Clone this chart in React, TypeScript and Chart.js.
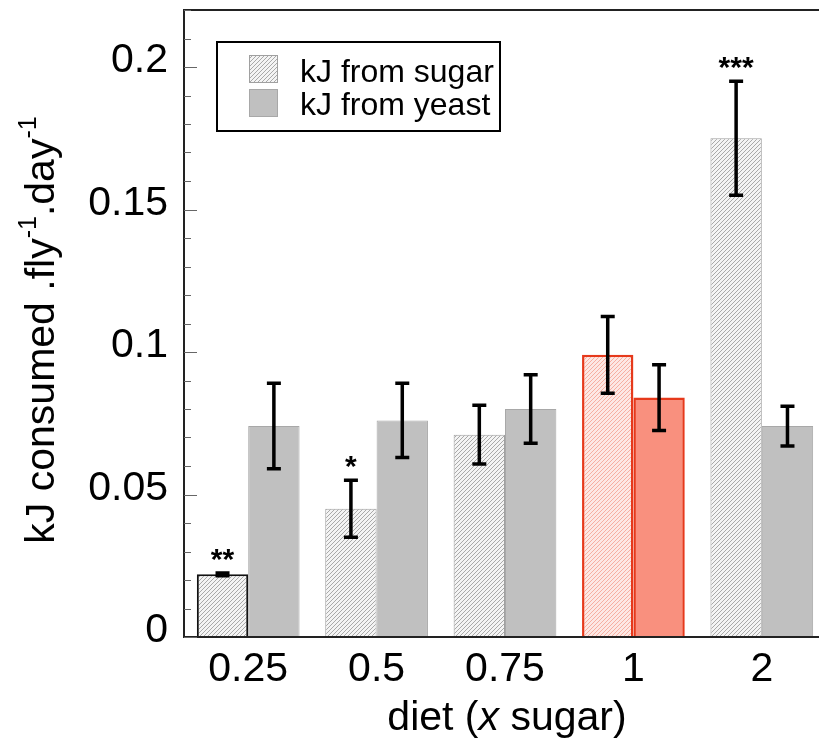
import React, { useEffect, useRef } from "react";
import { Chart, registerables } from "chart.js";
Chart.register(...registerables);

const categories = ["0.25", "0.5", "0.75", "1", "2"];
const sugarValues = [0.022, 0.045, 0.071, 0.099, 0.175];
const sugarErrors = [0.0005, 0.01, 0.0103, 0.0135, 0.02];
const yeastValues = [0.074, 0.076, 0.08, 0.084, 0.074];
const yeastErrors = [0.015, 0.013, 0.012, 0.0115, 0.007];
const stars = ["**", "*", "", "", "***"];
const yTickValues = [0, 0.05, 0.1, 0.15, 0.2];
const highlightIndex = 3;

const FONT = "'Liberation Sans', Arial, sans-serif";

function makeHatch(bg: string, line: string) {
  const c = document.createElement("canvas");
  c.width = 4;
  c.height = 4;
  const g = c.getContext("2d")!;
  g.fillStyle = bg;
  g.fillRect(0, 0, 4, 4);
  g.strokeStyle = line;
  g.lineWidth = 0.9;
  g.beginPath();
  g.moveTo(-1, 5);
  g.lineTo(5, -1);
  g.moveTo(-1, 1);
  g.lineTo(1, -1);
  g.moveTo(3, 5);
  g.lineTo(5, 3);
  g.stroke();
  return g.createPattern(c, "repeat")!;
}

export default function App() {
  const ref = useRef<HTMLCanvasElement>(null);
  useEffect(() => {
    const canvas = ref.current!;
    const ctx = canvas.getContext("2d")!;
    const grayHatch = makeHatch("#f4f4f4", "#a0a0a0");
    const redHatch = makeHatch("#fde8e4", "#f5a898");

    const sugarBg = categories.map((_, i) => (i === highlightIndex ? redHatch : grayHatch));
    const sugarBorder = categories.map((_, i) =>
      i === highlightIndex ? "#e6391b" : i === 0 ? "#111111" : "#a0a0a0"
    );
    const sugarBw = categories.map((_, i) => (i === highlightIndex ? 2.5 : i === 0 ? 2 : 1));
    const yeastBg = categories.map((_, i) => (i === highlightIndex ? "#f9907e" : "#c0c0c0"));
    const yeastBorder = categories.map((_, i) => (i === highlightIndex ? "#e6391b" : "#a8a8a8"));
    const yeastBw = categories.map((_, i) => (i === highlightIndex ? 2.5 : 1));

    const errors = [sugarErrors, yeastErrors];

    const decor = {
      id: "decor",
      afterDatasetsDraw(chart: any) {
        const c = chart.ctx;
        const ys = chart.scales.y;
        const area = chart.chartArea;
        c.save();
        // error bars
        c.strokeStyle = "#000";
        c.lineWidth = 3.5;
        c.lineCap = "butt";
        [0, 1].forEach((di) => {
          const meta = chart.getDatasetMeta(di);
          meta.data.forEach((bar: any, i: number) => {
            const v = chart.data.datasets[di].data[i];
            const e = errors[di][i];
            const x = bar.x;
            const yt = ys.getPixelForValue(v + e);
            const yb = ys.getPixelForValue(v - e);
            c.beginPath();
            c.moveTo(x, yt);
            c.lineTo(x, yb);
            c.moveTo(x - 7, yt);
            c.lineTo(x + 7, yt);
            c.moveTo(x - 7, yb);
            c.lineTo(x + 7, yb);
            c.stroke();
          });
        });
        // stars
        c.fillStyle = "#000";
        c.font = `bold 30px ${FONT}`;
        c.textAlign = "center";
        c.textBaseline = "alphabetic";
        const m0 = chart.getDatasetMeta(0);
        stars.forEach((s, i) => {
          if (!s) return;
          const v = sugarValues[i] + sugarErrors[i];
          c.fillText(s, m0.data[i].x, ys.getPixelForValue(v) - 4);
        });
        // frame
        c.strokeStyle = "#222";
        c.lineWidth = 2;
        c.beginPath();
        c.moveTo(area.right + 10, area.top);
        c.lineTo(area.left, area.top);
        c.lineTo(area.left, area.bottom);
        c.lineTo(area.right + 10, area.bottom);
        c.stroke();
        // inward ticks
        c.lineWidth = 1;
        c.strokeStyle = "#666";
        for (let k = 0; k <= 22; k++) {
          const v = k / 100;
          const y = Math.round(ys.getPixelForValue(v)) + 0.5;
          const len = k % 5 === 0 ? 13 : 7;
          c.beginPath();
          c.moveTo(area.left, y);
          c.lineTo(area.left + len, y);
          c.stroke();
        }
        // legend
        c.lineWidth = 2;
        c.strokeStyle = "#000";
        c.fillStyle = "#fff";
        c.fillRect(217, 42, 283, 89);
        c.strokeRect(217, 42, 283, 89);
        c.fillStyle = grayHatch;
        c.fillRect(249, 55, 29, 28);
        c.lineWidth = 1;
        c.strokeStyle = "#a0a0a0";
        c.strokeRect(249.5, 55.5, 28, 27);
        c.fillStyle = "#c0c0c0";
        c.fillRect(249, 89, 29, 28);
        c.strokeStyle = "#a8a8a8";
        c.strokeRect(249.5, 89.5, 28, 27);
        c.fillStyle = "#000";
        c.font = `32px ${FONT}`;
        c.textAlign = "left";
        c.textBaseline = "alphabetic";
        c.fillText("kJ from sugar", 300, 82);
        c.fillText("kJ from yeast", 300, 115);
        // y title
        const parts: [string, boolean][] = [
          ["kJ consumed .fly", false],
          ["-1", true],
          [".day", false],
          ["-1", true],
        ];
        const main = `41px ${FONT}`;
        const sup = `25px ${FONT}`;
        let total = 0;
        parts.forEach(([t, s]) => {
          c.font = s ? sup : main;
          total += c.measureText(t).width;
        });
        c.save();
        c.translate(54, 330);
        c.rotate(-Math.PI / 2);
        c.textBaseline = "alphabetic";
        let xx = -total / 2;
        parts.forEach(([t, s]) => {
          c.font = s ? sup : main;
          c.fillText(t, xx, s ? -18 : 0);
          xx += c.measureText(t).width;
        });
        c.restore();
        // x title
        const xparts: [string, boolean][] = [
          ["diet (", false],
          ["x", true],
          [" sugar)", false],
        ];
        let tw = 0;
        xparts.forEach(([t, it]) => {
          c.font = `${it ? "italic " : ""}41px ${FONT}`;
          tw += c.measureText(t).width;
        });
        let sx = 507 - tw / 2;
        c.textBaseline = "middle";
        xparts.forEach(([t, it]) => {
          c.font = `${it ? "italic " : ""}41px ${FONT}`;
          c.fillText(t, sx, 719);
          sx += c.measureText(t).width;
        });
        c.restore();
      },
    };

    const chart = new Chart(ctx, {
      type: "bar",
      data: {
        labels: categories,
        datasets: [
          {
            label: "kJ from sugar",
            data: sugarValues,
            backgroundColor: sugarBg as any,
            borderColor: sugarBorder,
            borderWidth: sugarBw,
          },
          {
            label: "kJ from yeast",
            data: yeastValues,
            backgroundColor: yeastBg,
            borderColor: yeastBorder,
            borderWidth: yeastBw,
          },
        ],
      },
      options: {
        animation: false,
        responsive: false,
        devicePixelRatio: 1,
        layout: { padding: { left: 0, top: 10, right: 4, bottom: 0 } },
        datasets: { bar: { categoryPercentage: 0.8, barPercentage: 1.0 } },
        plugins: { legend: { display: false }, tooltip: { enabled: false } },
        scales: {
          x: {
            grid: { display: false, drawTicks: false },
            border: { display: false },
            ticks: {
              color: "#000",
              font: { family: FONT, size: 41 },
              padding: 8,
            },
            afterFit(s: any) {
              s.height = 114;
              s.paddingLeft = 0;
              s.paddingRight = 0;
            },
          },
          y: {
            min: 0,
            max: 0.22,
            grid: { display: false, drawTicks: false },
            border: { display: false },
            afterBuildTicks(s: any) {
              s.ticks = yTickValues.map((v) => ({ value: v }));
            },
            ticks: {
              color: "#000",
              font: { family: FONT, size: 41 },
              padding: 16,
              labelOffset: -6,
              callback: (v: any) => String(+Number(v).toFixed(2)),
            },
            afterFit(s: any) {
              s.width = 184;
              s.paddingTop = 0;
              s.paddingBottom = 0;
            },
          },
        },
      },
      plugins: [decor],
    });
    return () => chart.destroy();
  }, []);
  return (
    <div style={{ position: "fixed", left: 0, top: 0, width: 819, height: 751, overflow: "hidden", background: "#fff" }}>
      <canvas ref={ref} width={830} height={751} style={{ display: "block" }} />
    </div>
  );
}
